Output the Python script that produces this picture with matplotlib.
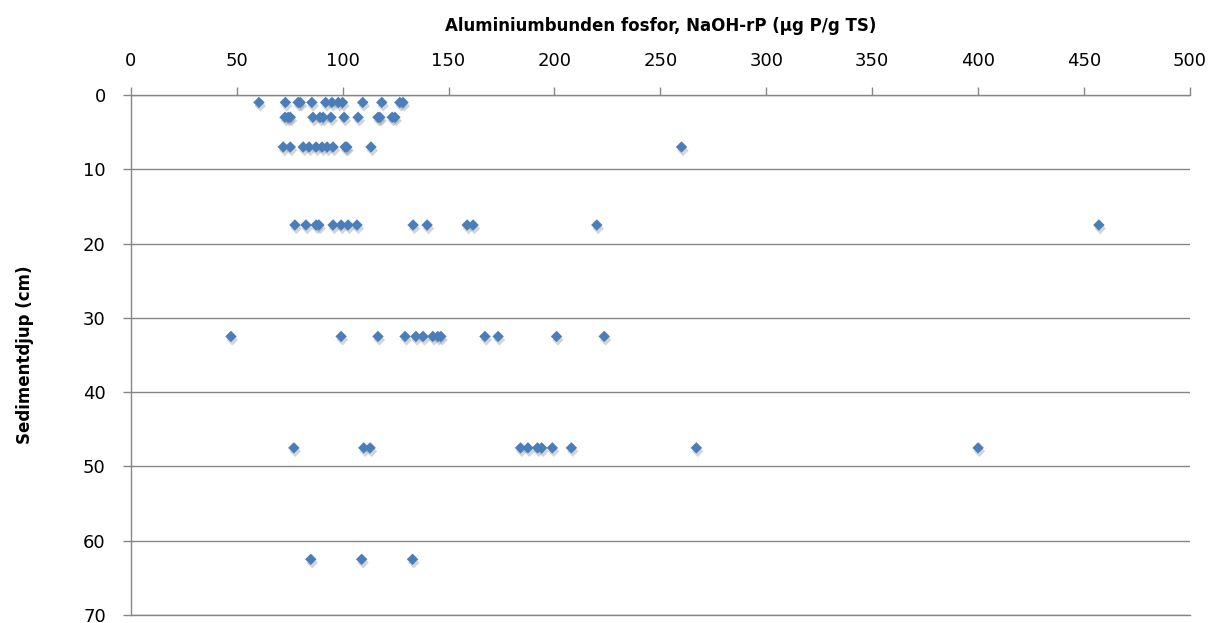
import matplotlib.pyplot as plt
import matplotlib.patheffects as pe
import numpy as np

# Aluminiumbunden fosfor (ug P/g TS) per sedimentdjup (cm)
depth_1 = [60.5, 73, 79, 80, 85.5, 92, 95, 98, 100, 109.5, 118.5, 127, 128.5]
depth_3 = [72.8, 74.3, 75.3, 86, 89.3, 90.8, 94.5, 100.7, 107.3, 116.7, 117.6, 123.4, 124.7]
depth_7 = [72, 75.3, 81.4, 84.2, 87.5, 90.3, 92.7, 95.5, 101.2, 102, 113.4, 260]
depth_17 = [77.5, 82.7, 87.5, 88.8, 95.5, 99.3, 102.6, 106.8, 133.3, 139.9, 158.8, 161.6, 220, 457]
depth_32 = [47.3, 99.3, 116.7, 129.5, 134.6, 138, 142.6, 145, 146.4, 167.2, 173.4, 201, 223.5]
depth_47 = [77, 110, 113, 184, 187.5, 192, 194, 199, 208, 267, 400]
depth_62 = [85, 109, 133]

depths = [1, 3, 7, 17.5, 32.5, 47.5, 62.5]
values = [depth_1, depth_3, depth_7, depth_17, depth_32, depth_47, depth_62]

x = np.concatenate([np.array(v, dtype=float) for v in values])
y = np.concatenate([np.full(len(v), d) for v, d in zip(values, depths)])

fig = plt.figure(figsize=(12.13, 6.23), dpi=100)
ax = fig.add_axes([0.1078, 0.0128, 0.981 - 0.1078, 0.8475 - 0.0128])

sc = ax.scatter(x, y, marker='D', s=34, color='#4a7ebb', zorder=3, linewidths=0)
sc.set_path_effects([pe.SimplePatchShadow(offset=(1, -2.5), shadow_rgbFace='#777777', alpha=0.3), pe.Normal()])

ax.set_xlim(0, 500)
ax.set_ylim(70, 0)
ax.set_xticks(np.arange(0, 501, 50))
ax.set_yticks(np.arange(0, 71, 10))
ax.xaxis.tick_top()
ax.xaxis.set_label_position('top')

ax.grid(axis='y', color='#868686', linewidth=1)
ax.set_axisbelow(True)
ax.spines['right'].set_visible(False)
for s in ['top', 'left', 'bottom']:
    ax.spines[s].set_color('#868686')
    ax.spines[s].set_linewidth(1)
ax.tick_params(axis='both', colors='#868686', labelcolor='black', labelsize=13, length=6, width=1)
ax.tick_params(axis='x', pad=12)
ax.tick_params(axis='y', pad=12)

ax.set_xlabel("Aluminiumbunden fosfor, NaOH-rP (µg P/g TS)", fontsize=12, fontweight='bold', labelpad=15)
ax.set_ylabel("Sedimentdjup (cm)", fontsize=12, fontweight='bold', labelpad=35)

plt.savefig('out.png', dpi=100)
